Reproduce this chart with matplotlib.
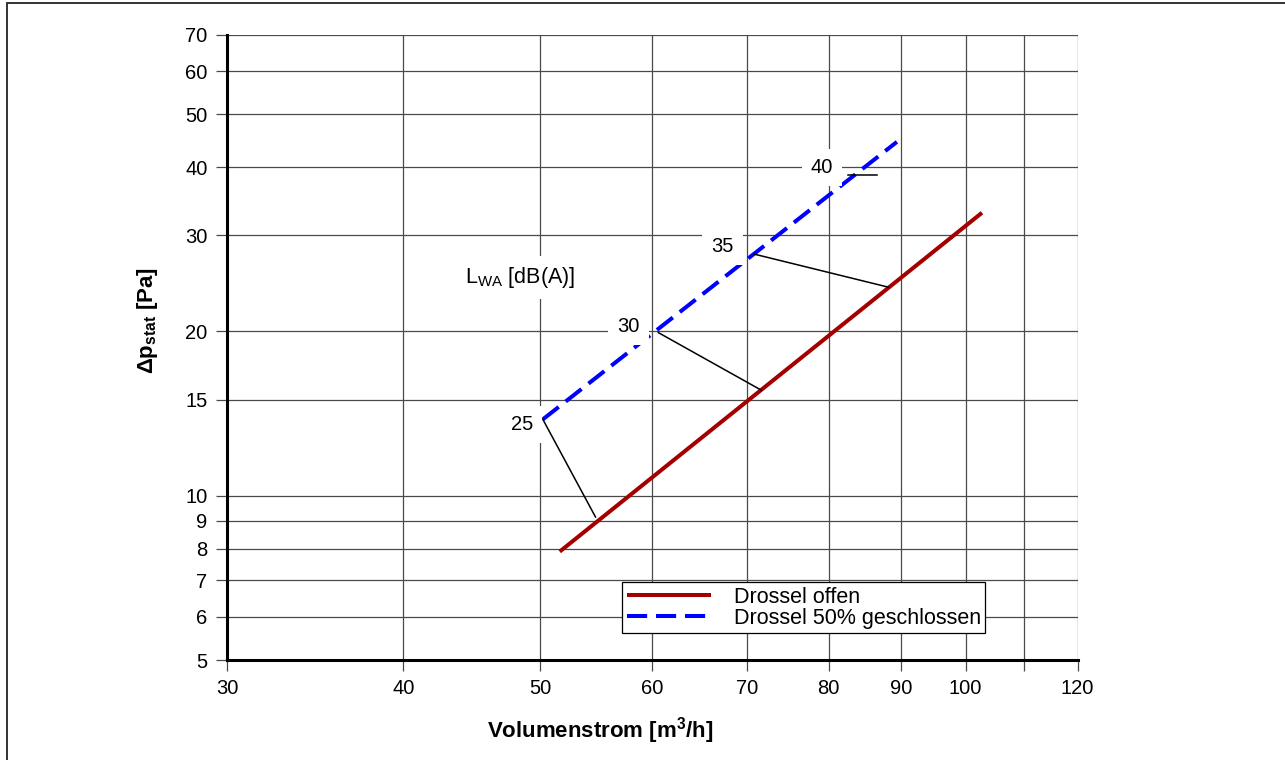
import numpy as np
import matplotlib
matplotlib.use('Agg')
import matplotlib.pyplot as plt
from matplotlib.patches import Rectangle
from matplotlib.ticker import FixedLocator, FixedFormatter, NullLocator

plt.rcParams['font.family'] = ['Liberation Sans', 'DejaVu Sans']
plt.rcParams['mathtext.fontset'] = 'custom'
plt.rcParams['mathtext.rm'] = 'Liberation Sans'
plt.rcParams['mathtext.it'] = 'Liberation Sans:italic'
plt.rcParams['mathtext.bf'] = 'Liberation Sans:bold'

# -------------------------------------------------
# Data
# -------------------------------------------------
x_ticks = [30, 40, 50, 60, 70, 80, 90, 100, 110, 120]
x_labels = ['30', '40', '50', '60', '70', '80', '90', '100', '', '120']
y_ticks = [5, 6, 7, 8, 9, 10, 15, 20, 30, 40, 50, 60, 70]
y_labels = [str(v) for v in y_ticks]

# Drossel offen
flow_open = [51.6, 102.7]
dp_open = [7.9, 33.0]

# Drossel 50% geschlossen
flow_half = [50.2, 89.4]
dp_half = [13.8, 44.5]

# sound power level marks L_WA
lwa_levels = ['25', '30', '35', '40']
lwa_text_x = [48.5, 57.7, 67.3, 79.1]
lwa_text_y = [13.5, 20.4, 28.6, 39.9]
lead_x0 = [50.2, 60.6, 70.9, 82.6]
lead_y0 = [13.8, 19.9, 27.7, 38.7]
lead_x1 = [54.7, 71.7, 88.2, 86.6]
lead_y1 = [9.14, 15.6, 24.1, 38.7]

# -------------------------------------------------
# Plot
# -------------------------------------------------
W, H = 1285, 760
fig = plt.figure(figsize=(W / 100, H / 100), dpi=100)
ax = fig.add_axes([227 / W, 100 / H, (1077.5 - 227) / W, (660 - 34.5) / H])

ax.set_xscale('log')
ax.set_yscale('log')
ax.set_xlim(30, 120)
ax.set_ylim(5, 70)

ax.xaxis.set_major_locator(FixedLocator(x_ticks))
ax.xaxis.set_major_formatter(FixedFormatter(x_labels))
ax.xaxis.set_minor_locator(NullLocator())
ax.yaxis.set_major_locator(FixedLocator(y_ticks))
ax.yaxis.set_major_formatter(FixedFormatter(y_labels))
ax.yaxis.set_minor_locator(NullLocator())

ax.grid(True, which='major', color='#4a4a4a', lw=0.9)
ax.set_axisbelow(True)

for s in ['top', 'right']:
    ax.spines[s].set_visible(False)
for s in ['left', 'bottom']:
    ax.spines[s].set_linewidth(2.2)
    ax.spines[s].set_color('black')

ax.tick_params(axis='both', which='major', direction='out', length=8,
               width=0.9, color='#4a4a4a', labelsize=14.5, pad=6)

ax.plot(flow_open, dp_open, color='#a50000', lw=2.9, solid_capstyle='butt',
        label='Drossel offen', zorder=3)
ax.plot(flow_half, dp_half, color='#0000ff', lw=2.9, dashes=(5, 2.2),
        dash_capstyle='butt', label='Drossel 50% geschlossen', zorder=3)

# leader lines + level labels
for i in range(len(lwa_levels)):
    ax.plot([lead_x0[i], lead_x1[i]], [lead_y0[i], lead_y1[i]],
            color='black', lw=1.1, zorder=4)
    ax.text(lwa_text_x[i], lwa_text_y[i], lwa_levels[i], fontsize=14.5,
            ha='center', va='center', zorder=5,
            bbox=dict(boxstyle='square,pad=0.45', fc='white', ec='none'))

ax.text(48.4, 25.1, 'L$_{\\mathrm{WA}}$ [dB(A)]', fontsize=15.5,
        ha='center', va='center', zorder=5,
        bbox=dict(boxstyle='square,pad=0.4', fc='white', ec='none'))

leg = ax.legend(loc='lower right', bbox_to_anchor=(985 / W, 127 / H),
                bbox_transform=fig.transFigure, borderaxespad=0,
                fontsize=15.5, frameon=True, fancybox=False, framealpha=1,
                edgecolor='black', handlelength=3.9, handletextpad=1.07,
                borderpad=0.2, labelspacing=0.0)
leg.get_frame().set_linewidth(0.9)

fig.text(600 / W, 1 - 731 / H, 'Volumenstrom [m$^{\\mathbf{3}}$/h]',
         fontsize=16, fontweight='bold', ha='center', va='center')
fig.text(148 / W, 1 - 320 / H, 'Δp$_{\\mathbf{stat}}$ [Pa]',
         fontsize=16, fontweight='bold', rotation=90, ha='center', va='center')

# outer frame
fig.add_artist(Rectangle((7 / W, -0.05), 1.1, 1.05 - 3 / H, transform=fig.transFigure,
                         fill=False, ec='#333333', lw=1.4))

fig.savefig('out.png', dpi=100)
